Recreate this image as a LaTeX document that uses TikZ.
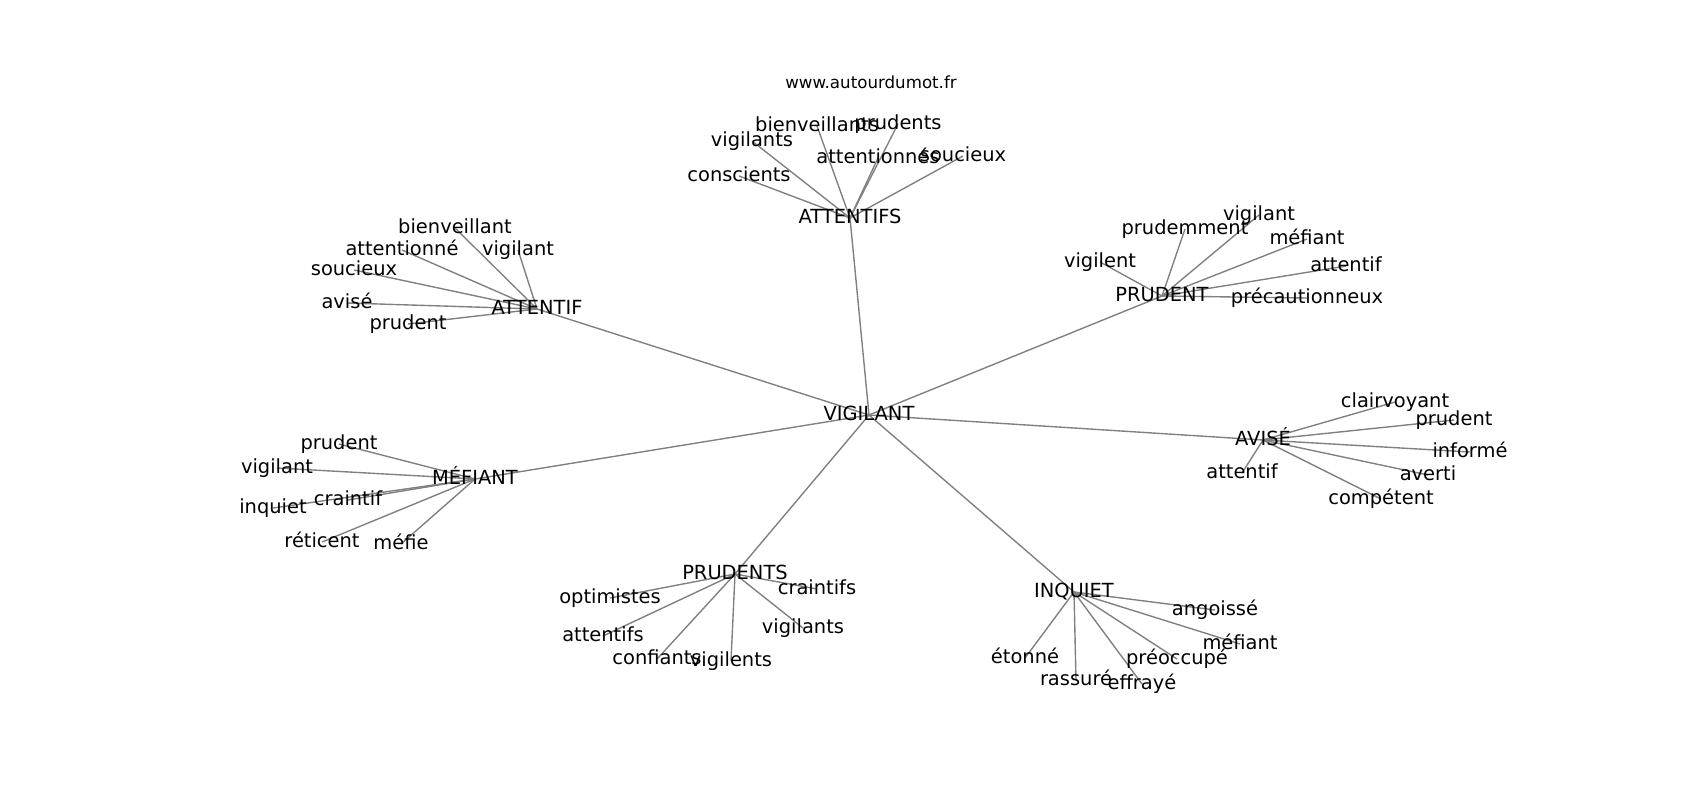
\documentclass[tikz,border=0pt]{standalone}
\usepackage{fontspec}
\setmainfont{DejaVu Sans}
\usepackage{tikz}
\usetikzlibrary{backgrounds}

\begin{document}
\begin{tikzpicture}[line cap=round,line join=round,x=0.72pt,y=-0.72pt,
    word/.style={inner sep=0pt, text height=12pt, text depth=3.4pt, font=\fontsize{14}{16}\selectfont},
    edge/.style={draw=gray, line width=1pt}]
                    \useasboundingbox (0,0) rectangle (1700,800);
                    \node[font=\fontsize{12}{14}\selectfont] (title) at (871,82) {www.autourdumot.fr};

                    \node[word] (vig) at (869,415) {VIGILANT};

                    \node[word] (atts) at (850,218) {ATTENTIFS};
                    \node[word] (atts1) at (739,176) {conscients};
                    \node[word] (atts2) at (752,141) {vigilants};
                    \node[word] (atts3) at (817,126) {bienveillants};
                    \node[word] (atts4) at (898,124) {prudents};
                    \node[word] (atts5) at (878,158) {attentionnés};
                    \node[word] (atts6) at (963,156) {soucieux};

                    \node[word] (att) at (537,309) {ATTENTIF};
                    \node[word] (att1) at (455,228) {bienveillant};
                    \node[word] (att2) at (402,250) {attentionné};
                    \node[word] (att3) at (518,250) {vigilant};
                    \node[word] (att4) at (354,270) {soucieux};
                    \node[word] (att5) at (347,303) {avisé};
                    \node[word] (att6) at (408,324) {prudent};

                    \node[word] (pru) at (1162,296) {PRUDENT};
                    \node[word] (pru1) at (1100,262) {vigilent};
                    \node[word] (pru2) at (1185,229) {prudemment};
                    \node[word] (pru3) at (1259,215) {vigilant};
                    \node[word] (pru4) at (1307,239) {méfiant};
                    \node[word] (pru5) at (1346,266) {attentif};
                    \node[word] (pru6) at (1307,298) {précautionneux};

                    \node[word] (avi) at (1263,440) {AVISÉ};
                    \node[word] (avi1) at (1395,402) {clairvoyant};
                    \node[word] (avi2) at (1454,420) {prudent};
                    \node[word] (avi3) at (1470,452) {informé};
                    \node[word] (avi4) at (1428,475) {averti};
                    \node[word] (avi5) at (1381,499) {compétent};
                    \node[word] (avi6) at (1242,473) {attentif};

                    \node[word] (mef) at (475,479) {MÉFIANT};
                    \node[word] (mef1) at (339,444) {prudent};
                    \node[word] (mef2) at (277,468) {vigilant};
                    \node[word] (mef3) at (273,508) {inquiet};
                    \node[word] (mef4) at (348,500) {craintif};
                    \node[word] (mef5) at (322,542) {réticent};
                    \node[word] (mef6) at (401,544) {méfie};

                    \node[word] (prus) at (735,574) {PRUDENTS};
                    \node[word] (prus1) at (610,598) {optimistes};
                    \node[word] (prus2) at (817,589) {craintifs};
                    \node[word] (prus3) at (603,636) {attentifs};
                    \node[word] (prus4) at (657,659) {confiants};
                    \node[word] (prus5) at (731,661) {vigilents};
                    \node[word] (prus6) at (803,628) {vigilants};

                    \node[word] (inq) at (1074,592) {INQUIET};
                    \node[word] (inq1) at (1215,610) {angoissé};
                    \node[word] (inq2) at (1240,644) {méfiant};
                    \node[word] (inq3) at (1177,659) {préoccupé};
                    \node[word] (inq4) at (1142,684) {effrayé};
                    \node[word] (inq5) at (1076,680) {rassuré};
                    \node[word] (inq6) at (1025,658) {étonné};

                    \begin{scope}[on background layer]
                    \draw [edge] (vig.center) -- (atts.center);
                    \draw [edge] (vig.center) -- (att.center);
                    \draw [edge] (vig.center) -- (pru.center);
                    \draw [edge] (vig.center) -- (avi.center);
                    \draw [edge] (vig.center) -- (mef.center);
                    \draw [edge] (vig.center) -- (prus.center);
                    \draw [edge] (vig.center) -- (inq.center);

                    \draw [edge] (atts.center) -- (atts1.center);
                    \draw [edge] (atts.center) -- (atts2.center);
                    \draw [edge] (atts.center) -- (atts3.center);
                    \draw [edge] (atts.center) -- (atts4.center);
                    \draw [edge] (atts.center) -- (atts5.center);
                    \draw [edge] (atts.center) -- (atts6.center);

                    \draw [edge] (att.center) -- (att1.center);
                    \draw [edge] (att.center) -- (att2.center);
                    \draw [edge] (att.center) -- (att3.center);
                    \draw [edge] (att.center) -- (att4.center);
                    \draw [edge] (att.center) -- (att5.center);
                    \draw [edge] (att.center) -- (att6.center);

                    \draw [edge] (pru.center) -- (pru1.center);
                    \draw [edge] (pru.center) -- (pru2.center);
                    \draw [edge] (pru.center) -- (pru3.center);
                    \draw [edge] (pru.center) -- (pru4.center);
                    \draw [edge] (pru.center) -- (pru5.center);
                    \draw [edge] (pru.center) -- (pru6.center);

                    \draw [edge] (avi.center) -- (avi1.center);
                    \draw [edge] (avi.center) -- (avi2.center);
                    \draw [edge] (avi.center) -- (avi3.center);
                    \draw [edge] (avi.center) -- (avi4.center);
                    \draw [edge] (avi.center) -- (avi5.center);
                    \draw [edge] (avi.center) -- (avi6.center);

                    \draw [edge] (mef.center) -- (mef1.center);
                    \draw [edge] (mef.center) -- (mef2.center);
                    \draw [edge] (mef.center) -- (mef3.center);
                    \draw [edge] (mef.center) -- (mef4.center);
                    \draw [edge] (mef.center) -- (mef5.center);
                    \draw [edge] (mef.center) -- (mef6.center);

                    \draw [edge] (prus.center) -- (prus1.center);
                    \draw [edge] (prus.center) -- (prus2.center);
                    \draw [edge] (prus.center) -- (prus3.center);
                    \draw [edge] (prus.center) -- (prus4.center);
                    \draw [edge] (prus.center) -- (prus5.center);
                    \draw [edge] (prus.center) -- (prus6.center);

                    \draw [edge] (inq.center) -- (inq1.center);
                    \draw [edge] (inq.center) -- (inq2.center);
                    \draw [edge] (inq.center) -- (inq3.center);
                    \draw [edge] (inq.center) -- (inq4.center);
                    \draw [edge] (inq.center) -- (inq5.center);
                    \draw [edge] (inq.center) -- (inq6.center);
                    \end{scope}
                \end{tikzpicture}
\end{document}
